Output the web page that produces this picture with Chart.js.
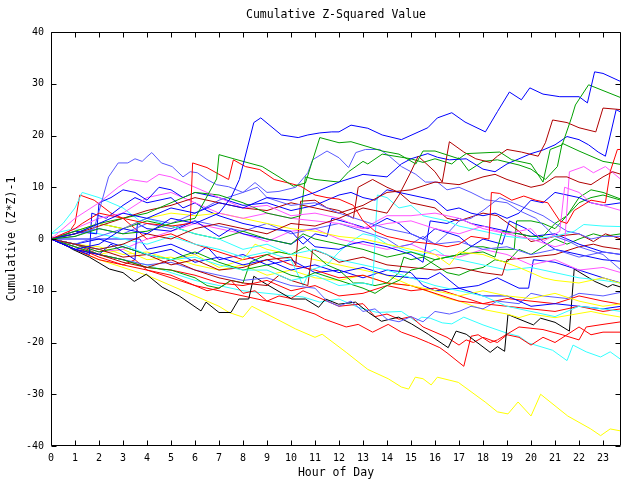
<!DOCTYPE html>
<html>
<head>
<meta charset="utf-8">
<script src="https://cdn.jsdelivr.net/npm/chart.js@4/dist/chart.umd.min.js"></script>
<style>
    html, body { margin: 0; padding: 0; background: #ffffff; }
</style>
</head>
<body>
<canvas id="zChart" width="640" height="480"></canvas>
<script>
// tick labels
const hourTicks = [0, 1, 2, 3, 4, 5, 6, 7, 8, 9, 10, 11, 12, 13, 14, 15, 16, 17, 18, 19, 20, 21, 22, 23];
const valueTicks = [-40, -30, -20, -10, 0, 10, 20, 30, 40];

// each series: [hour, cumulative value]
const blue1 = [[0,0],[1,-2],[2,-1],[3,2],[4,1],[5,4],[6,3],[7,5],[7.5,8],[7.85,11.5],[8.45,22.5],[8.74,23.4],[9.6,20.1],[10.3,19.6],[10.7,20.1],[11.2,20.5],[11.7,20.7],[12,20.7],[12.5,22],[13.2,21.4],[13.8,20.1],[14.6,19.2],[15.7,21.5],[16.1,23.4],[16.7,24.4],[17.25,22.6],[18.1,20.7],[18.6,24.6],[19.1,28.4],[19.6,26.9],[19.95,29.2],[20.5,28],[21.2,27.5],[22,27.5],[22.35,26.3],[22.65,32.3],[23,32],[23.75,30.4]];
const blue2 = [[0,0],[1,1],[2,3],[3,5],[4,4],[5,6],[6,5],[7,7],[8,6],[9,8],[10,7.5],[11,9],[12,11],[13,12.5],[14,12],[14.6,14.5],[15,15.5],[15.7,16.5],[16.1,15.8],[16.6,15.3],[17.3,15.5],[18,13.5],[18.5,13],[19,14.5],[19.5,15.5],[20,16.5],[20.5,17.2],[21,18.2],[21.5,19.8],[22,19.2],[22.4,18.2],[22.8,16.8],[23.1,16],[23.55,25],[23.75,24.5]];
const blue3 = [[0,0],[1,-2],[1.6,-3],[1.7,5],[2.3,4],[3,6.5],[3.5,8],[4,7],[5,8],[5.5,6],[6,7],[6.5,5.5],[7,4.5],[8,3],[9,2],[10,1.5],[10.5,-1],[11,1],[11.5,0.5],[11.7,4],[12.5,3],[13.2,2],[14,4],[14.5,3],[15,1],[15.5,0],[16,2],[17,0.5],[17.5,-1.5],[18,0],[18.8,-1],[19.1,3.5],[19.8,2],[20.5,-0.5],[21,-2],[22,-3],[23,-4],[23.75,-4.3]];
const blue4 = [[0,0],[1,-1],[2,0],[3,-1.5],[4,-3],[5,-2],[6,-4.5],[7,-3.5],[8,-5],[9,-4],[10,-6],[11,-5],[12,-6.5],[13,-5.5],[14,-7],[15,-7.5],[15.7,-7.7],[16.2,-6.5],[17,-9.5],[17.8,-9],[18.6,-7.5],[19.5,-9.5],[19.9,-9.5],[20.1,-4],[21,-4.5],[22,-6],[23,-7.5],[23.75,-8.5]];
const blue5 = [[0,0],[1,1.5],[1.9,1],[2,7],[2.5,8],[3,9.5],[3.5,9],[4,7.5],[4.5,10],[5,9.5],[5.5,8],[6,9],[7,8],[8,6.5],[9,7],[10,5.5],[11,6.5],[12,8.5],[12.5,9],[13,8],[13.5,7.5],[14,9.5],[15,8.5],[16,7.5],[16.5,5.5],[17,6],[17.5,5],[18,4.5],[18.5,5],[19,4],[19.5,5],[20,7.5],[20.5,7],[21,9],[21.5,8.5],[22,8],[22.5,7],[23,6.5],[23.75,7]];
const blue6 = [[0,0],[1,-2],[2,-3],[2.5,-1],[3,-2.5],[3.5,-4],[3.6,3],[4,2],[5,1.5],[6,3.5],[6.5,2],[7,0.5],[7.5,2],[8,1],[9,0],[10,-1],[10.5,0.5],[11,-1.5],[12,-2],[12.5,-1],[13,-0.5],[14,-1.5],[15,-3],[15.5,-4.5],[15.8,3.5],[16.5,3],[17,4],[17.5,3],[18,2.5],[19,1.5],[20,0.5],[21,1],[21.5,0],[22,-1],[23,-2.5],[23.75,-3]];
const blue7 = [[0,0],[3.7,0],[4,-2],[5,-1],[6,-3],[6.5,-1.5],[7,-4],[8,-3],[9,-5],[10,-4],[11,-6.5],[12,-6],[13,-7.5],[14,-6],[15,-6.5],[15.5,-9],[16,-10],[17,-9.5],[18,-11],[19,-11],[20,-13],[21,-12.5],[22,-13],[23,-13.5],[23.75,-13]];
const lightBlue1 = [[0,0],[1,0.5],[1.8,2],[2.4,12],[2.8,14.7],[3.2,14.7],[3.5,15.5],[3.8,15],[4,15.9],[4.2,16.7],[4.6,14.7],[5.05,14],[5.5,12],[5.8,13],[6.1,12.8],[6.5,11.5],[6.9,10.5],[7.4,10.1],[8,9],[8.6,10],[9,8],[10,6.5],[11,7],[12,5],[13,3.5],[14,2],[15,1],[16,-1],[17,-0.5],[18,-2],[19,-1.5],[20,-3],[21,-2],[22,-3.5],[23,-2.5],[23.75,-3]];
const lightBlue2 = [[0,0],[1,-1],[2,0.5],[3,2],[4,4],[5,3],[6,5],[7,7.5],[8,9],[8.5,10.9],[9,9],[9.5,9.2],[10.2,10],[10.7,12.8],[10.9,15.3],[11.5,17],[12,15.7],[12.4,13.8],[12.7,16.7],[13.1,17.3],[13.7,17.3],[14.1,16],[14.6,14],[15.2,12.5],[15.6,11],[16.1,11],[16.5,9.5],[17,10],[17.5,9],[18.1,7.6],[19,7],[19.5,5.5],[20.2,4],[20.6,2.3],[21,0.5],[21.6,-0.5],[22,-1.5],[23,-3],[23.75,-6]];
const lightBlue3 = [[0,0],[1,-1.5],[2,-3],[3,-4],[4,-5],[5,-4.5],[6,-6],[7,-7],[8,-8],[9,-7.5],[10,-9],[11,-9.5],[11.5,-12],[12,-13],[12.5,-12],[13,-14],[13.5,-13.5],[14,-15.5],[14.5,-16],[15,-15],[15.5,-16],[16,-14],[16.6,-14.5],[17,-14],[17.5,-13],[18,-13.5],[18.6,-12],[19.5,-12.5],[20,-10.5],[20.5,-11],[21.5,-11.5],[22,-10.5],[23,-11],[23.75,-10.3]];
const lightBlue4 = [[0,0],[1,1],[2,2],[3,1],[4,3],[5,2],[6,3.5],[7,2.5],[8,1.5],[9,3],[10,1],[11,2],[12,3],[13,1.5],[14,0],[14.5,-1.5],[15,-1],[15.5,0.5],[16,-1],[16.5,1],[17,3.5],[17.5,4],[18,5.5],[18.7,8],[19.5,6.5],[20,5.5],[20.5,4.5],[21,3],[21.5,1.5],[22,1],[22.5,0],[23,0.5],[23.75,0.5]];
const green1 = [[0,0],[1,0.5],[2,2],[3,1],[4,1.5],[5,3],[6,4],[6.9,11.6],[7,16.3],[8,15],[8.8,14],[9.5,12],[10.1,10.2],[10.6,10.8],[11.2,19.6],[12,18.6],[12.5,18.8],[13.8,17],[14.5,16.4],[15.2,14.5],[15.5,17],[16,17],[17,15.5],[17.3,16.5],[18.7,16.8],[19.2,15.3],[20,14.5],[20.5,11],[20.8,17.3],[21.3,18.2],[21.7,23.6],[21.85,25.9],[22.4,29.8],[23.75,27.3]];
const green2 = [[0,0],[1,1.5],[2,3],[3,4],[4,5],[5,7],[6,9],[7,8.5],[8,7],[9,5],[10,4],[10.4,4.5],[10.6,12],[11,11.5],[12,11],[12.4,13],[13,15],[13.2,14.5],[13.8,16.4],[15,15.5],[15.5,14.8],[16,15.5],[16.7,14.5],[17,15.7],[17.4,13.2],[18,15],[18.6,15.3],[19.5,14.3],[20,13.5],[20.6,11.5],[21.1,14],[21.3,18.5],[22,17],[23,15],[23.75,14.4]];
const green3 = [[0,0],[1,-1],[2,-2.5],[3,-1.5],[4,-3],[5,-4],[6,-2.5],[7,-4.5],[8,-6],[9,-5],[10,-7],[10.5,-7.5],[11,-6.5],[12,-8],[13,-9.5],[13.5,-10.5],[14,-9],[14.5,-8],[15,-6],[15.5,-5.5],[16,-4],[17,-3],[17.5,-1.5],[18,-1.5],[18.5,-2],[19.3,-2],[19.4,3.5],[20,3.5],[20.5,3],[21,2],[21.5,4.5],[22,8],[22.5,9.5],[23,9],[23.75,7.7]];
const green4 = [[0,0],[1,-1.5],[2,-3],[3,-4],[4,-5.5],[5,-6],[6,-7.5],[6.5,-9],[7,-9.5],[7.5,-8],[8,-8.5],[8.3,-4.5],[9,-3],[9.5,-2.5],[10,-3],[10.6,-1.5],[11,-3],[11.5,-5],[12,-6],[12.6,-8.5],[13,-8.5],[13.5,-9],[14,-8.5],[14.5,-6.5],[14.7,-3.5],[15,-4],[15.5,-3.5],[16,-5],[16.5,-6.5],[17,-7],[17.5,-6],[18,-5.5],[18.5,-4],[19,-4.5],[19.5,-2],[20,-3],[20.5,-1.5],[21,0],[21.5,-1],[22,0],[22.6,1],[23,0.5],[23.75,1]];
const green5 = [[0,0],[1,1],[2,3],[3,2],[4,3.5],[5,2.5],[6,1],[7,0],[8,1.5],[9,0],[10,-1],[10.5,1],[11,0],[12,-1],[13,-2],[14,-3.5],[15,-2.5],[16,-4],[17,-3],[18,-2.5],[18.5,-3.5],[18.8,1.5],[19.5,1],[20,0.5],[20.5,0.5],[21,3],[21.5,4.5],[22,7],[22.5,8],[23,8.5],[23.75,7.5]];
const darkRed1 = [[0,0],[1,-1],[2,-2],[3,-1],[4,1],[5,0],[6,2],[7,3],[8,2],[9,1],[10,3],[11,2.5],[12,4],[13,6],[14,5],[14.5,8.5],[15,13],[15.3,16],[16,13],[16.3,11],[16.6,18.8],[17.2,16.8],[17.7,15.5],[18.3,14.8],[18.6,16],[19,17.3],[19.6,16.8],[20.3,16],[20.6,18.6],[20.9,23],[21.5,22.5],[22,21.5],[22.7,20.7],[23,25.3],[23.75,25]];
const darkRed2 = [[0,0],[1,-1],[2,-2],[3,-3.5],[4,-3],[5,-5],[6,-4],[7,-6],[8,-5.5],[9,-4],[10,-3.5],[10.2,-5],[10.4,7.3],[11,7.5],[11.5,6],[12,5.5],[12.6,4],[12.8,10],[13.4,11.5],[14,10],[14.5,9],[15,7],[16,6],[16.5,4],[17,3.5],[18,5],[18.6,4.5],[19.5,1.5],[20,-0.5],[21,0.5],[22,1],[22.6,-0.5],[23.1,1],[23.75,0]];
const darkRed3 = [[0,0],[1,1],[2,2.5],[3,4],[4,5.5],[5,6.5],[6,8],[7,7],[8,6],[9,5.5],[10,7],[11,6],[12,5],[13,6.5],[14,9],[15,9.5],[16,11],[17,10.5],[18,12],[18.5,12.5],[19,11.5],[20,10],[20.5,10.5],[21,12],[21.5,12],[22,11],[22.5,10.5],[23,12],[23.4,13],[23.75,12.5]];
const darkRed4 = [[0,0],[1,-2],[2,-3],[3,-4.5],[4,-5.5],[5,-4],[6,-6],[7,-7.5],[8,-8.5],[9,-9],[9.5,-7],[10,-8],[10.7,-9],[10.9,-2],[11.5,-3],[12,-4.5],[13,-3.5],[14,-5],[15,-5.5],[16,-6],[17,-5.5],[18,-6.5],[18.8,-7],[19,-4],[20,-3.5],[21,-3],[22,-1.5],[22.6,-1],[23,-1.5],[23.75,-2]];
const red1 = [[0,0],[1,2],[1.3,3],[2,5],[3,4],[4,3],[5,2.5],[5.8,3],[5.9,14.7],[6.5,13.8],[7,12.5],[7.4,11.5],[7.6,15.3],[8.1,14],[8.7,13.4],[9.3,11.5],[10,10.7],[10.4,10.2],[11,8.5],[11.5,8],[12,7.7],[12.6,6.5],[13,3.5],[13.5,1.5],[14,0.5],[15,-0.5],[16,-1],[16.5,-1.5],[17,-1],[17.5,0.5],[18.25,0],[18.35,9],[18.7,8.8],[19.2,7.5],[19.7,8.3],[20.2,7.5],[20.7,7],[21.2,3.5],[21.5,3],[21.8,5.5],[22.5,7.5],[23.1,7],[23.3,13],[23.6,17.3],[23.75,17.3]];
const red2 = [[0,0],[0.7,1],[1,3],[1.2,8.5],[1.8,7.5],[2.5,5],[3,4],[3.5,2],[4,0],[5,1],[6,-1],[7,-2.5],[8,-4],[9,-3],[10,-5],[11,-6],[12,-7.5],[13,-7],[14,-8.5],[15,-9],[16,-10.5],[17,-12],[18,-12.5],[19,-13],[20,-13.5],[21,-14],[22,-13],[23,-14],[23.75,-13.5]];
const red3 = [[0,0],[1,-1],[2,-3],[3,-4],[4,-5.5],[5,-6],[6,-7],[7,-8.5],[8,-9],[9,-8],[10,-10],[11,-9],[12,-11],[13,-10.5],[14,-9],[15,-10],[16,-9.5],[17,-11],[18,-12.5],[19,-11.5],[20,-12],[21,-12.5],[22,-11],[23,-12],[23.75,-12.6]];
const red4 = [[0,0],[1,-2],[2,-4],[3,-5],[4,-6],[5,-7],[6,-9],[7,-10],[8,-11],[9,-12],[10,-13],[11,-14.5],[11.4,-15.5],[12.3,-17],[12.8,-16.5],[13.4,-18],[14.05,-16.5],[14.6,-18],[15.2,-19],[15.72,-20],[16.2,-21],[16.5,-22],[17.2,-24.6],[17.5,-18.8],[17.8,-18.5],[18.3,-20],[18.6,-19.5],[19.5,-17],[20.5,-17.5],[21.3,-18.5],[22,-19.5],[22.3,-17],[23,-16.5],[23.75,-16]];
const red5 = [[0,0],[1,-1.5],[2,-3.5],[3,-5],[3.5,-4],[4,-6],[5,-7.5],[6,-9],[6.5,-10],[7,-9.5],[7.5,-8],[8,-10.5],[8.5,-10],[9,-12],[9.5,-11],[10,-11.5],[10.5,-10],[11,-11],[12,-13],[13,-12.5],[13.5,-15],[14,-14.5],[14.5,-15.5],[15,-15],[15.5,-17],[16,-18],[16.5,-19],[17,-20.5],[17.3,-19.5],[17.6,-20],[18,-19],[18.6,-20],[19,-18.5],[19.5,-19],[20,-20.5],[20.5,-19],[21,-20],[21.5,-18.5],[22,-17],[22.5,-18.5],[23,-18],[23.75,-18]];
const magenta1 = [[0,0],[1,2],[2,4],[3,5],[4,8],[5,9],[6,7],[7,5],[8,4],[9,5],[10,4],[11,3.5],[12,3],[13,2],[14,4.5],[15,4.5],[16,5],[17,4],[18,2],[19,1],[20,0],[21,-1.5],[21.4,-1],[21.6,13],[22.2,14],[22.6,12.8],[23.1,14],[23.75,11.5]];
const magenta2 = [[0,0],[0.5,2],[1,4],[2,7],[2.8,10],[3.3,11.5],[4,11],[4.5,12.5],[5,12],[6,10],[7,8],[8,6],[9,6.5],[10,4.5],[11,5],[12,4],[13,2],[14,3],[15,3.5],[16,2],[17,1],[18,2.5],[19,1],[20,2],[20.5,-0.5],[21.2,1.5],[21.4,10],[22,9],[22.5,7],[23,6.5],[23.75,5.5]];
const magenta3 = [[0,0],[1,-1],[2,-2.5],[3,-2],[4,0],[5,1.5],[6,3],[7,2],[8,1],[9,-0.5],[10,1.5],[11,2],[12,0],[13,-1],[14,-2],[15,-1],[16,-3],[17,-3.5],[18,-2],[19,-3],[20,-5],[21,-4],[22,-6],[23,-5.5],[23.75,-6.5]];
const cyan1 = [[0,1],[0.5,3],[1,6],[1.3,9],[2,8],[3,6],[3.7,3.5],[4,4],[5,2.5],[6,1],[7,0],[8,-2],[9,-1],[10,-3],[11,-2],[12,-4],[13,-5],[14,-6],[15,-7.5],[16,-9],[17,-10],[18,-11],[19,-13],[20,-14],[21,-15],[22,-13],[23,-13.5],[23.75,-14]];
const cyan2 = [[0,0],[1,-1],[2,-2],[3,-1],[4,-3],[5,-4],[6,-3.5],[7,-5],[8,-6],[9,-6],[10,-8],[11,-7],[12,-9],[13,-8.5],[13.4,-9],[13.6,8.5],[14,8],[14.5,6],[15,6.5],[15.5,4.5],[16,4],[16.5,3.5],[17,2.5],[18,1.5],[19,0.5],[20,0],[21,0.5],[21.8,1.5],[22.2,2.8],[23,2.5],[23.75,2.4]];
const cyan3 = [[0,1],[1,2],[2,1],[3,0],[4,-1],[5,0.5],[6,-1],[7,-2],[8,-3.5],[9,-2.5],[10,-4],[10.5,-9],[10.8,-6],[11.5,-5],[12,-2.5],[12.5,-0.5],[13,1],[13.5,0.5],[14,-1],[15,-2.5],[15.5,-3],[16,-2],[16.5,-3.5],[17,-4],[18,-5],[19,-6],[20,-5.5],[21,-6.5],[22,-7.5],[23,-8],[23.75,-8.5]];
const cyan4 = [[0,0],[1,-1],[2,-3],[3,-4],[4,-5],[5,-6.5],[6,-8],[7,-9],[8,-10],[9,-10.5],[10.5,-11.2],[11.2,-12.2],[12,-11.6],[12.8,-13.2],[13.6,-14.2],[14.6,-14],[15.2,-15.9],[15.45,-15.1],[15.8,-15.3],[16.3,-16.2],[16.7,-16.4],[17.2,-15.1],[18,-16.6],[19,-18.2],[19.5,-18.8],[19.9,-20.1],[20.9,-21.5],[21.5,-23.5],[21.75,-20.5],[22.3,-21.8],[22.9,-22.8],[23.3,-21.8],[23.75,-23.3]];
const yellow1 = [[0,0],[1,-2],[2,-4],[3,-5.5],[4,-7],[5,-9],[6,-11],[7,-13],[7.42,-14.2],[8,-15.1],[8.37,-13],[9,-14.5],[10.2,-17.4],[11,-19],[11.3,-18.4],[12.3,-21.9],[13.2,-25.2],[14.05,-27],[14.6,-28.6],[14.9,-29],[15.18,-26.7],[15.5,-27],[15.84,-28.2],[16.1,-26.7],[16.97,-27.7],[18.09,-31.5],[18.6,-33.4],[19.04,-33.8],[19.46,-31.5],[20,-34.2],[20.4,-30],[21.53,-34.2],[22.49,-36.7],[22.9,-38],[23.3,-36.7],[23.75,-37.1]];
const yellow2 = [[0,0],[1,-1.5],[2,-3],[3,-2],[4,-4],[5,-3.5],[6,-5],[7,-6],[8,-5],[9,-7],[10,-6],[11,-7.5],[12,-8],[13,-7],[14,-8.5],[15,-9],[15.7,-10.1],[16.5,-11.5],[17,-12],[18,-13.6],[19,-14.5],[19.5,-15.2],[20,-14.5],[21,-15.2],[21.5,-14.8],[22.5,-14],[23,-14.5],[23.75,-15.1]];
const yellow3 = [[0,0],[1,1.5],[2,3],[3,2],[4,4],[5,5],[6,4.5],[7,5],[8,4],[9,3],[10,2],[11,1.5],[12,0.5],[13,0],[14,-1],[15,-2],[16,-3],[16.6,-5],[17,-2.5],[18,-3],[18.6,-4],[19.5,-5.5],[20,-6.5],[20.5,-7.5],[21,-8],[22,-8.5],[23,-7.5],[23.75,-8.6]];
const yellow4 = [[0,0],[1,-1],[2,-1.5],[3,-3],[4,-2.5],[5,-4],[6,-3],[7,-5.5],[8,-4],[8.5,-1],[9,-2],[10,-3],[11,-4],[12,-5],[13,-6],[14,-7],[15,-9],[16,-10],[17,-11],[18,-10],[19,-11],[20,-11.5],[21,-10.5],[22,-12],[23,-13],[23.75,-12.5]];
const black1 = [[0,0.5],[0.9,-2],[1.6,-3.5],[2.43,-5.8],[3,-6.5],[3.47,-8.2],[3.97,-6.8],[4.63,-9.3],[5.34,-11],[6.25,-13.9],[6.46,-12.2],[7,-14.2],[7.5,-14.2],[7.83,-11.6],[8.24,-11.6],[8.45,-7.2],[8.78,-8.2],[10.03,-11.6],[10.6,-11.6],[11.15,-13.2],[11.44,-11.6],[11.98,-12.6],[12.69,-12.2],[13.23,-14.2],[13.77,-15.9],[14.48,-15.1],[15.02,-16.4],[15.72,-18.4],[16.55,-21],[16.88,-17.8],[17.3,-18.4],[18.3,-21.9],[18.6,-20.8],[18.9,-21.7],[19.04,-14.6],[19.25,-15],[20.1,-16.6],[20.4,-15.3],[21,-16.1],[21.6,-17.8],[21.8,-5.8],[22.66,-8.2],[23.2,-9.3],[23.4,-8.8],[23.75,-9.3]];

const BLUE = '#0000ff';
const LIGHT_BLUE = '#5a5aff';
const GREEN = '#00a000';
const DARK_RED = '#b00000';
const RED = '#ff0000';
const MAGENTA = '#ff55ff';
const CYAN = '#33ffff';
const YELLOW = '#ffff00';
const BLACK = '#000000';

const series = [
    [blue1, BLUE], [green1, GREEN], [darkRed1, DARK_RED], [blue2, BLUE], [red1, RED],
    [lightBlue1, LIGHT_BLUE], [magenta2, MAGENTA], [green2, GREEN], [darkRed3, DARK_RED],
    [lightBlue2, LIGHT_BLUE], [blue5, BLUE], [magenta1, MAGENTA], [cyan1, CYAN],
    [yellow3, YELLOW], [green5, GREEN], [cyan2, CYAN], [blue3, BLUE], [lightBlue4, LIGHT_BLUE],
    [darkRed2, DARK_RED], [green3, GREEN], [blue6, BLUE], [magenta3, MAGENTA], [darkRed4, DARK_RED],
    [cyan3, CYAN], [green4, GREEN], [blue4, BLUE], [yellow4, YELLOW], [red2, RED], [blue7, BLUE],
    [lightBlue3, LIGHT_BLUE], [red3, RED], [yellow2, YELLOW], [black1, BLACK], [red4, RED],
    [red5, RED], [cyan4, CYAN], [yellow1, YELLOW]
];

const monoFont = '"DejaVu Sans Mono", "Liberation Mono", monospace';

// frame with inward tick marks on all four sides
const framePlugin = {
    id: 'frame',
    afterDraw(chart) {
        const { ctx, chartArea: a, scales: { x, y } } = chart;
        const left = Math.round(a.left) + 0.5;
        const right = Math.round(a.right) - 0.5;
        const top = Math.round(a.top) + 0.5;
        const bottom = Math.round(a.bottom) - 0.5;
        ctx.save();
        ctx.strokeStyle = '#000000';
        ctx.lineWidth = 1;
        ctx.beginPath();
        ctx.rect(left, top, right - left, bottom - top);
        x.ticks.forEach(t => {
            const px = Math.round(x.getPixelForValue(t.value)) + 0.5;
            ctx.moveTo(px, bottom);
            ctx.lineTo(px, bottom - 5);
            ctx.moveTo(px, top);
            ctx.lineTo(px, top + 5);
        });
        y.ticks.forEach(t => {
            const py = Math.round(y.getPixelForValue(t.value)) + 0.5;
            ctx.moveTo(left, py);
            ctx.lineTo(left + 5, py);
            ctx.moveTo(right, py);
            ctx.lineTo(right - 5, py);
        });
        ctx.stroke();
        ctx.restore();
    }
};

const ctx = document.getElementById('zChart').getContext('2d');

const chart = new Chart(ctx, {
    type: 'line',
    data: {
        datasets: series.map(([pts, color]) => ({
            data: pts.map(([h, v]) => ({ x: h, y: v })),
            borderColor: color,
            backgroundColor: color,
            borderWidth: 1,
            pointRadius: 0,
            tension: 0,
            fill: false
        }))
    },
    options: {
        responsive: false,
        animation: false,
        devicePixelRatio: 1,
        layout: {
            padding: { top: 0, left: 0, right: 19, bottom: 0 }
        },
        plugins: {
            legend: { display: false },
            tooltip: { enabled: false },
            title: {
                display: true,
                fullSize: false,
                text: 'Cumulative Z-Squared Value',
                color: '#000000',
                font: { family: monoFont, size: 11.5, weight: 'normal', lineHeight: 1.2 },
                padding: { top: 8, bottom: 10.2 }
            }
        },
        scales: {
            x: {
                type: 'linear',
                min: 0,
                max: 23.75,
                afterBuildTicks: axis => { axis.ticks = hourTicks.map(v => ({ value: v })); },
                afterFit: axis => { axis.height = 34; },
                grid: { display: false, drawTicks: false, tickLength: 0 },
                border: { display: false },
                ticks: {
                    color: '#000000',
                    font: { family: monoFont, size: 10 },
                    padding: 6,
                    maxRotation: 0,
                    autoSkip: false
                },
                title: {
                    display: true,
                    text: 'Hour of Day',
                    color: '#000000',
                    font: { family: monoFont, size: 11.5, lineHeight: 1.2 },
                    padding: { top: 0, bottom: 0 }
                }
            },
            y: {
                type: 'linear',
                min: -40,
                max: 40,
                afterBuildTicks: axis => { axis.ticks = valueTicks.map(v => ({ value: v })); },
                afterFit: axis => { axis.width = 51; },
                grid: { display: false, drawTicks: false, tickLength: 0 },
                border: { display: false },
                ticks: {
                    color: '#000000',
                    font: { family: monoFont, size: 10 },
                    padding: 7
                },
                title: {
                    display: true,
                    text: 'Cumulative (Z*Z)-1',
                    color: '#000000',
                    font: { family: monoFont, size: 11.5, lineHeight: 1.2 },
                    padding: { top: 5, bottom: 0 }
                }
            }
        }
    },
    plugins: [framePlugin]
});
</script>
</body>
</html>
